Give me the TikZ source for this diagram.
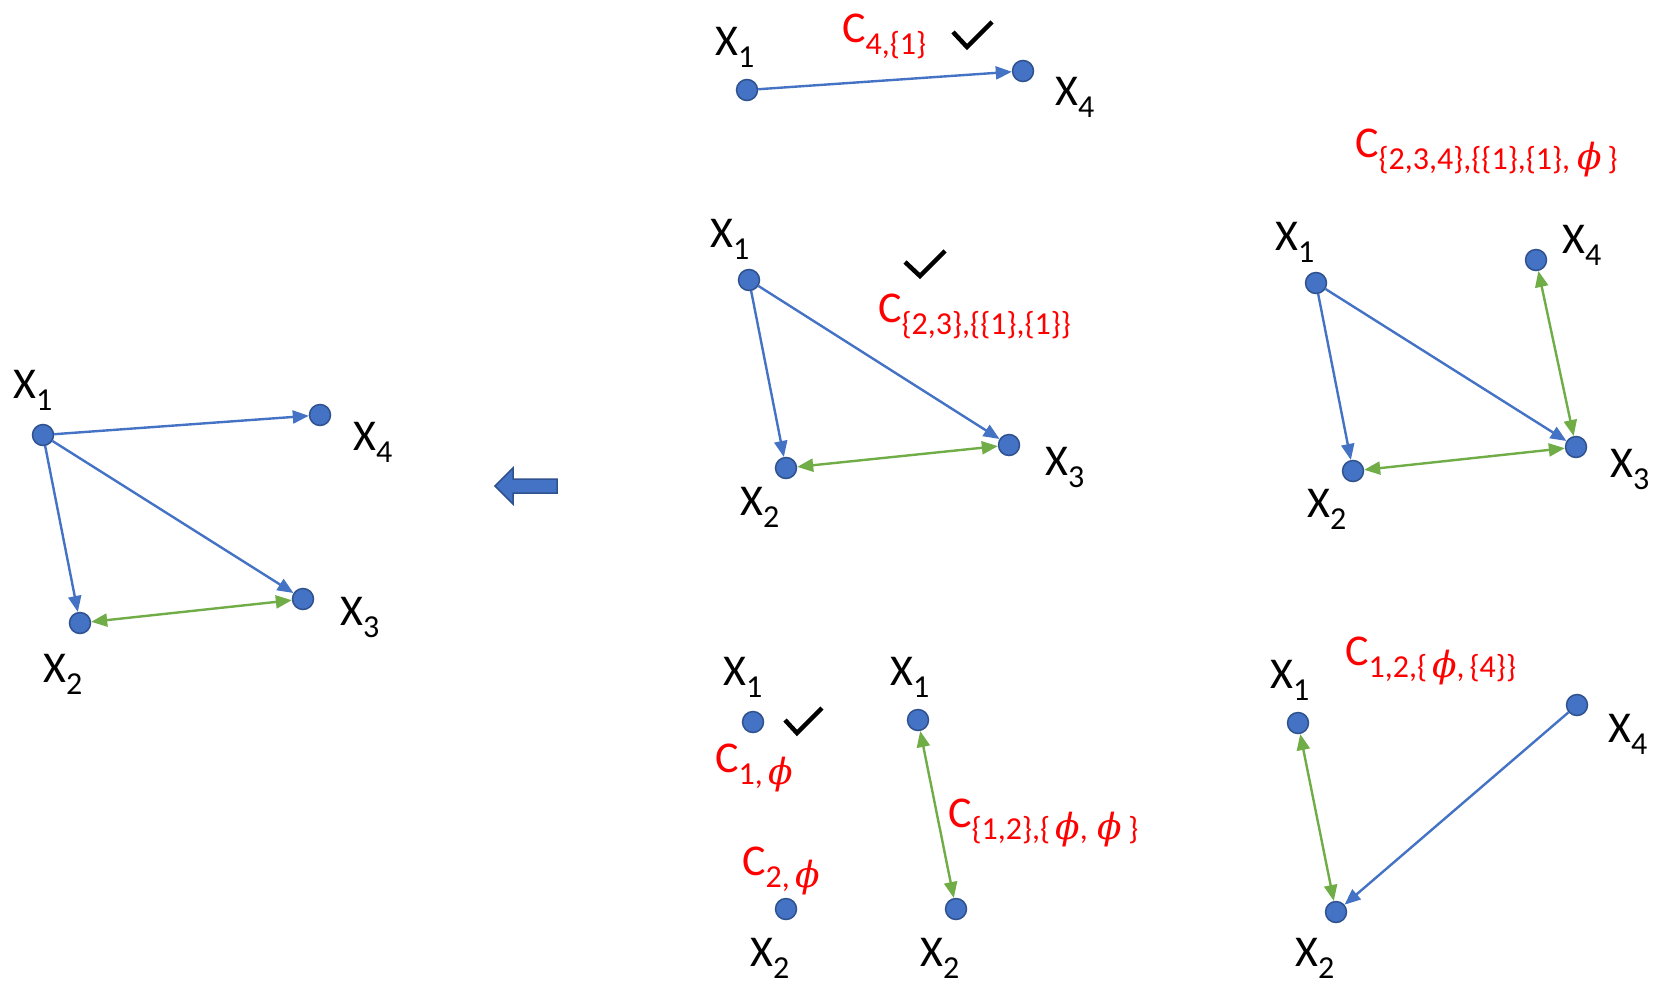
\documentclass[tikz,border=0pt]{standalone}
\usepackage{fontspec}
\setmainfont{Carlito}
\newfontfamily\phifont{DejaVu Serif}
\usetikzlibrary{arrows.meta}
\definecolor{nblue}{HTML}{4472C4}
\definecolor{nborder}{HTML}{2F528F}
\definecolor{egreen}{HTML}{70AD47}
\definecolor{cred}{HTML}{FF0000}
\newcommand{\subfs}{\fontsize{32}{32}\selectfont}
\newcommand{\Xv}[1]{X\raisebox{-12pt}[\height][0pt]{\subfs #1}}
\newcommand{\Cl}[1]{C\raisebox{-12pt}[\height][0pt]{\subfs #1}}
\newcommand{\ph}{{\phifont\itshape\fontsize{36}{36}\selectfont ϕ}}
\begin{document}
\begin{tikzpicture}[x=1pt,y=-1pt,
  dot/.style={circle,fill=nblue,draw=nborder,line width=1.5pt,minimum size=21pt,inner sep=0pt},
  lbl/.style={anchor=base west,inner sep=0pt,font=\fontsize{44}{48}\selectfont},
  clbl/.style={lbl,text=cred},
  bedge/.style={draw=nblue,line width=2.4pt,-{Triangle[length=16pt,width=13pt]}},
  gedge/.style={draw=egreen,line width=2.4pt,{Triangle[length=16pt,width=13pt]}-{Triangle[length=16pt,width=13pt]}},
  check/.style={draw=black,line width=4.5pt}]
\useasboundingbox[fill=white] (0,0) rectangle (1661,983);

% ---------- left graph ----------
\node[dot] (L1) at (43,435) {};
\node[dot] (L4) at (320,415) {};
\node[dot] (L3) at (303,599) {};
\node[dot] (L2) at (80,623) {};
\node[lbl] (lL1) at (13,398) {\Xv{1}};
\node[lbl] (lL4) at (353,450) {\Xv{4}};
\node[lbl] (lL3) at (340,625) {\Xv{3}};
\node[lbl] (lL2) at (43,682) {\Xv{2}};
\draw[bedge] (L1) -- (L4);
\draw[bedge] (L1) -- (L3);
\draw[bedge] (L1) -- (L2);
\draw[gedge] (L2) -- (L3);

% ---------- fat arrow ----------
\filldraw[fill=nblue,draw=nborder,line width=1.5pt] (495,486) -- (513,468) -- (513,479) -- (557,479) -- (557,493) -- (513,493) -- (513,504) -- cycle;

% ---------- top graph ----------
\node[dot] (T1) at (747,90) {};
\node[dot] (T4) at (1023,71) {};
\node[lbl] (lT1) at (715,55) {\Xv{1}};
\node[lbl] (lT4) at (1055,105) {\Xv{4}};
\node[clbl] (cT) at (842,42) {\Cl{4,\{1\}}};
\draw[bedge] (T1) -- (T4);
\draw[check] (953,32) -- (967,47) -- (992,22);

% ---------- middle-top graph ----------
\node[dot] (M1) at (749,280) {};
\node[dot] (M2) at (786,468) {};
\node[dot] (M3) at (1009,445) {};
\node[lbl] (lM1) at (710,247) {\Xv{1}};
\node[lbl] (lM2) at (740,515) {\Xv{2}};
\node[lbl] (lM3) at (1045,475) {\Xv{3}};
\node[clbl] (cM) at (878,322) {\Cl{\{2,3\},\{\{1\},\{1\}\}}};
\draw[bedge] (M1) -- (M2);
\draw[bedge] (M1) -- (M3);
\draw[gedge] (M2) -- (M3);
\draw[check] (905,262) -- (920,276) -- (945,251);

% ---------- right-top graph ----------
\node[dot] (R1) at (1316,283) {};
\node[dot] (R4) at (1536,260) {};
\node[dot] (R3) at (1576,447) {};
\node[dot] (R2) at (1353,471) {};
\node[lbl] (lR1) at (1275,250) {\Xv{1}};
\node[lbl] (lR4) at (1562,253) {\Xv{4}};
\node[lbl] (lR3) at (1610,477) {\Xv{3}};
\node[lbl] (lR2) at (1307,517) {\Xv{2}};
\node[clbl] (cR) at (1355,157) {\Cl{\{2,3,4\},\{\{1\},\{1\},\kern7pt\ph\kern6pt\}}};
\draw[bedge] (R1) -- (R2);
\draw[bedge] (R1) -- (R3);
\draw[gedge] (R2) -- (R3);
\draw[gedge] (R4) -- (R3);

% ---------- bottom-left singletons ----------
\node[dot] (A1) at (753,722) {};
\node[dot] (A2) at (786,909) {};
\node[lbl] (lA1) at (723,685) {\Xv{1}};
\node[lbl] (lA2) at (750,966) {\Xv{2}};
\node[clbl] (cA1) at (715,772) {\Cl{1,\kern6pt\ph}};
\node[clbl] (cA2) at (742,875) {\Cl{2,\kern6pt\ph}};
\draw[check] (785,720) -- (797,733) -- (822,708);

% ---------- bottom-middle graph ----------
\node[dot] (B1) at (918,720) {};
\node[dot] (B2) at (956,909) {};
\node[lbl] (lB1) at (890,685) {\Xv{1}};
\node[lbl] (lB2) at (920,966) {\Xv{2}};
\node[clbl] (cB) at (948,827) {\Cl{\{1,2\},\{\kern5pt\ph,\kern10pt\ph\kern6pt\}}};
\draw[gedge] (B1) -- (B2);

% ---------- bottom-right graph ----------
\node[dot] (D1) at (1298,723) {};
\node[dot] (D4) at (1577,705) {};
\node[dot] (D2) at (1336,912) {};
\node[lbl] (lD1) at (1270,688) {\Xv{1}};
\node[lbl] (lD4) at (1608,742) {\Xv{4}};
\node[lbl] (lD2) at (1295,966) {\Xv{2}};
\node[clbl] (cD) at (1345,665) {\Cl{1,2,\{\kern5pt\ph,\kern5pt\{4\}\}}};
\draw[gedge] (D1) -- (D2);
\draw[bedge] (D4) -- (D2);
\end{tikzpicture}
\end{document}
